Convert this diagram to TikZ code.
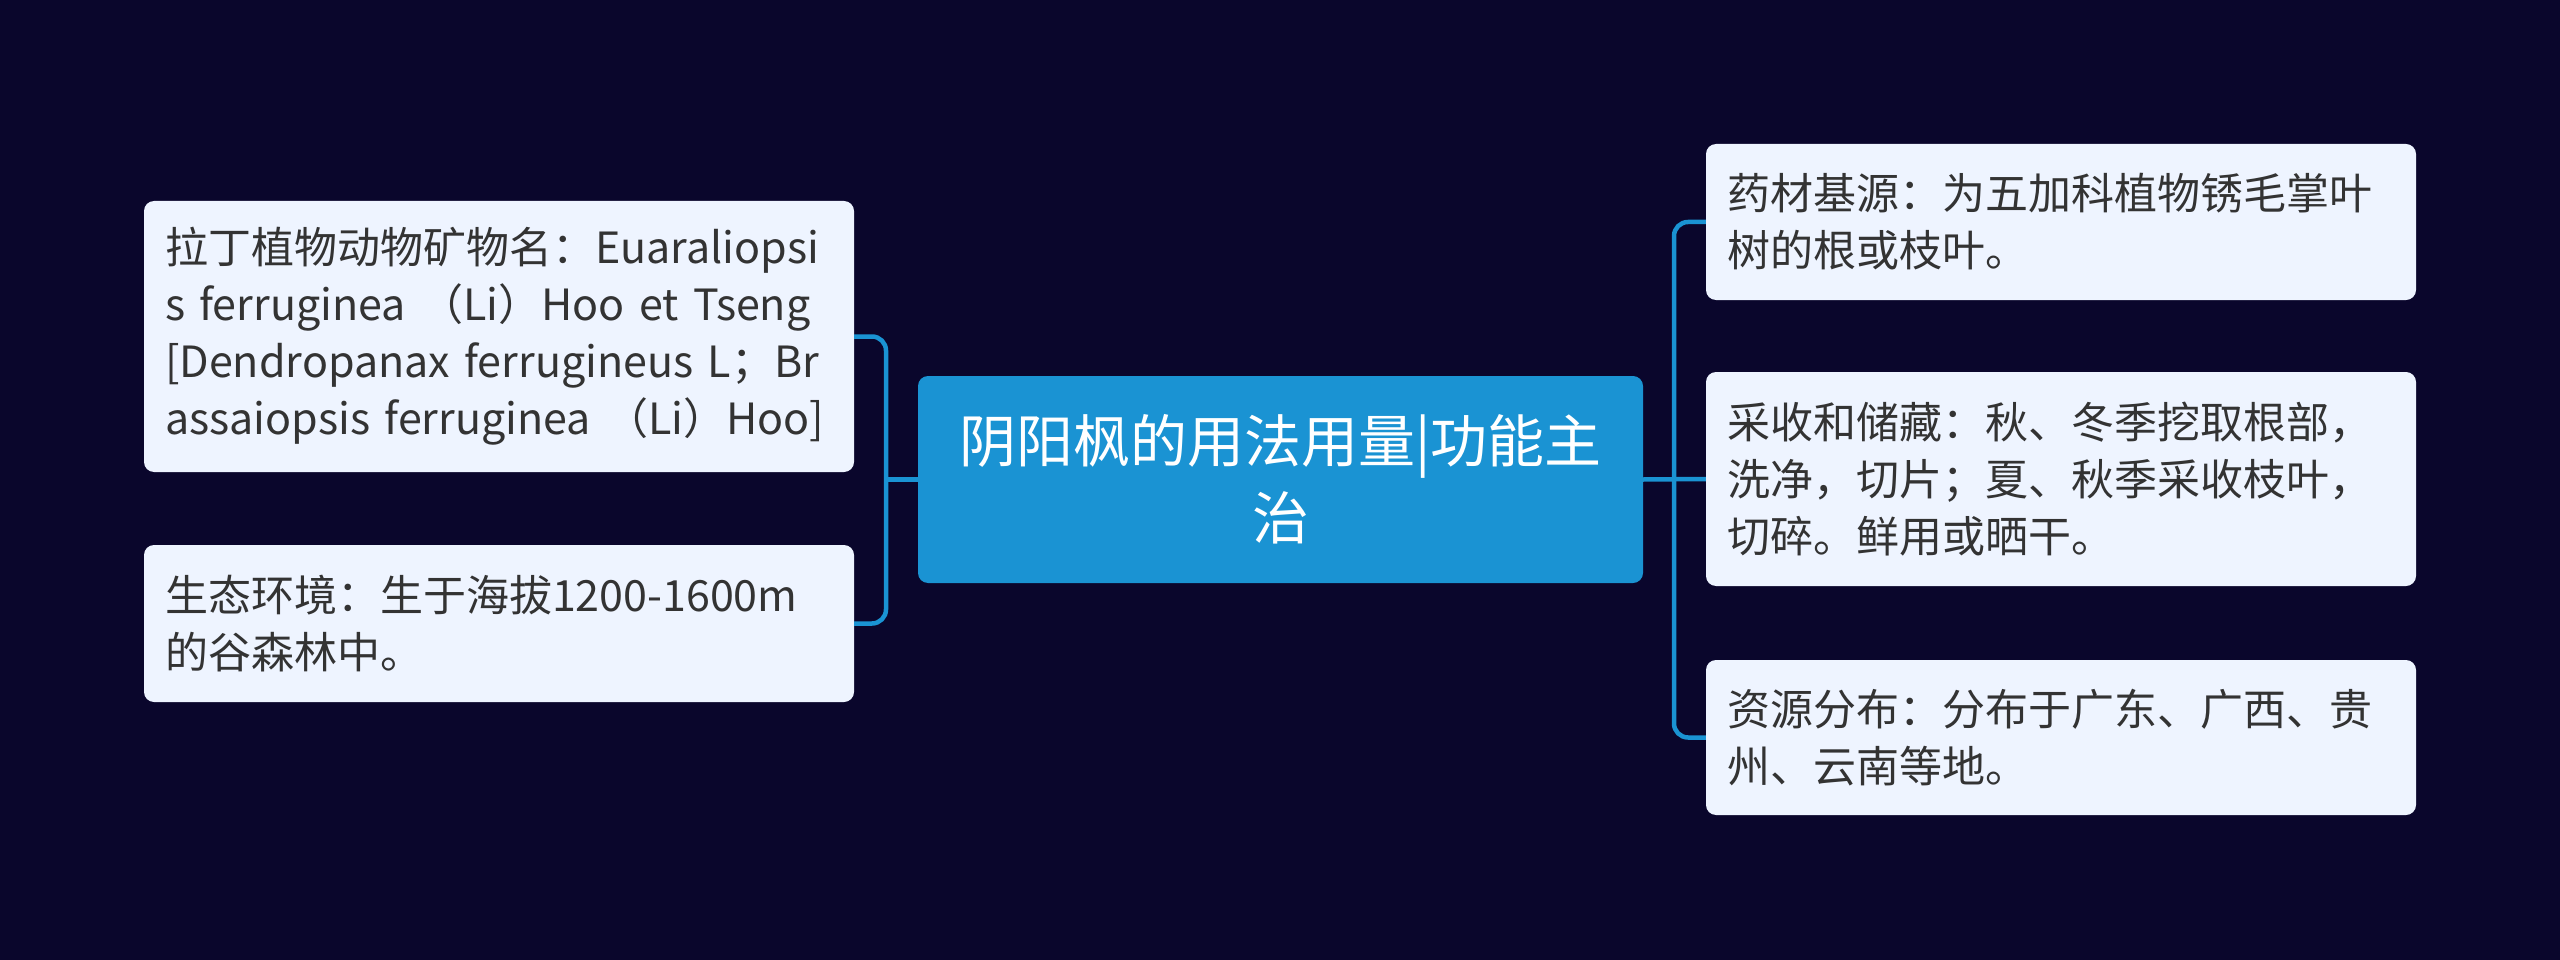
\documentclass[tikz,border=0pt]{standalone}
\usepackage{fontspec}
\setmainfont{Noto Sans CJK SC}
\definecolor{bg}{HTML}{0A062C}
\definecolor{hub}{HTML}{1A93D3}
\definecolor{leaf}{HTML}{EEF4FF}
\definecolor{ink}{HTML}{333333}
\tikzset{
  leafbox/.style={draw=none, fill=leaf, rounded corners=10pt, minimum width=710pt, text width=668pt, align=left, inner sep=0pt, text=ink, font=\fontsize{43}{57}\selectfont},
  hubbox/.style={draw=none, fill=hub, rounded corners=10pt, minimum width=725pt, minimum height=207pt, text width=690pt, align=center, inner sep=0pt, text=white, font=\fontsize{57}{77}\selectfont},
  conn/.style={draw=hub, line width=4.5pt, rounded corners=14pt}
}
\begin{document}
\begin{tikzpicture}[x=1pt,y=-1pt]
\fill[bg] (0,0) rectangle (2560,960);
\useasboundingbox (0,0) rectangle (2560,960);
\coordinate (LJ) at (886,479.5);
\coordinate (RJ) at (1674,479.5);
\node[hubbox] (C) at (1280.5,479.5) {阴阳枫的用法用量|功能主\\治};
\node[leafbox, minimum height=271pt] (L1) at (499,336.5) {拉丁植物动物矿物名：Euaraliopsi\\s ferruginea （Li）Hoo et Tseng\\{[}Dendropanax ferrugineus L；Br\\assaiopsis ferruginea （Li）Hoo]};
\node[leafbox, minimum height=157pt] (L2) at (499,623.5) {生态环境：生于海拔1200-1600m\\的谷森林中。};
\node[leafbox, minimum height=156pt] (R1) at (2061,222) {药材基源：为五加科植物锈毛掌叶\\树的根或枝叶。};
\node[leafbox, minimum height=214pt] (R2) at (2061,479) {采收和储藏：秋、冬季挖取根部，\\洗净，切片；夏、秋季采收枝叶，\\切碎。鲜用或晒干。};
\node[leafbox, minimum height=155pt] (R3) at (2061,737.5) {资源分布：分布于广东、广西、贵\\州、云南等地。};
\draw[conn] (L1.east) -- (L1.east -| LJ) |- (L2.east);
\draw[conn] (C.west) -- (LJ);
\draw[conn] (R1.west) -- (R1.west -| RJ) |- (R3.west);
\draw[conn] (C.east) -- (R2.west);
\end{tikzpicture}
\end{document}
